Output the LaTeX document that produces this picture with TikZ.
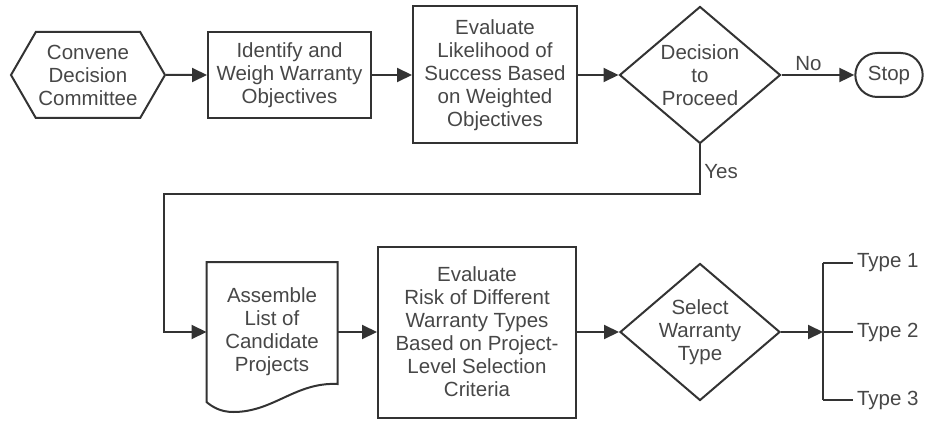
\documentclass[tikz,border=0pt]{standalone}
\usepackage{fontspec}
\setmainfont{Liberation Sans}
\usetikzlibrary{shapes.geometric,shapes.symbols,shapes.misc,arrows.meta}

\begin{document}
\begin{tikzpicture}[x=1pt,y=1pt,line width=2pt,color=black!80,
    every node/.style={text=black!72,font=\fontsize{20.5}{23}\selectfont,align=center},
    box/.style={draw,rectangle,inner sep=0pt},
    decide/.style={draw,diamond,aspect=1.18,inner sep=0pt,minimum width=161pt,minimum height=137pt},
    arr/.style={-{Triangle[length=15pt,width=14pt]}}]
    \useasboundingbox (0,0) rectangle (933,-422);
    % Ligne du haut
    \node[draw,signal,signal to=west and east,signal pointer angle=120,inner sep=0pt,
      minimum width=154pt,minimum height=86pt] (convene) at (88,-75) {Convene\\Decision\\Committee};
    \node[box,minimum width=163pt,minimum height=86pt] (weigh) at (289.5,-75) {Identify and\\Weigh Warranty\\Objectives};
    \node[box,minimum width=164pt,minimum height=137pt] (likely) at (495,-75) {Evaluate\\Likelihood of\\Success Based\\on Weighted\\Objectives};
    \node[decide] (proceed) at (700,-75) {Decision\\to\\Proceed};
    \node[draw,rounded rectangle,minimum width=74pt,minimum height=44pt] (stop) at (889,-75) {Stop};
    \draw[arr] (convene) -- (weigh);
    \draw[arr] (weigh) -- (likely);
    \draw[arr] (likely) -- (proceed);
    \draw[arr] (proceed) -- node[above,pos=0.37] {No} (stop);
    % Ligne du bas
    \node[minimum width=129pt,minimum height=138pt,inner sep=0pt] (assemble) at (272,-332) {Assemble\\List of\\Candidate\\Projects};
    \draw (assemble.south west) -- (assemble.north west) -- (assemble.north east) -- ([yshift=18pt]assemble.south east)
      .. controls +(-42,2) and +(40,0) .. ([xshift=27pt,yshift=-10pt]assemble.south west)
      .. controls +(-13,0) and +(6,-5) .. (assemble.south west) -- cycle;
    \node[box,minimum width=198pt,minimum height=171pt] (risk) at (477,-332) {Evaluate\\Risk of Different\\Warranty Types\\Based on Project-\\Level Selection\\Criteria};
    \node[decide,minimum width=160pt] (select) at (700,-332) {Select\\Warranty\\Type};
    \coordinate (back) at (164,-194);
    \draw[arr] (proceed.south) -- node[right,pos=0.55] {Yes} (proceed.south |- back) -- (back) |- (assemble.west);
    \draw[arr] (assemble) -- (risk);
    \draw[arr] (risk) -- (select);
    % Types de garantie
    \coordinate (fork) at (823,-332);
    \draw[arr] (select) -- (fork);
    \draw (823,-263) -- (823,-400);
    \foreach \i/\y in {1/-263,2/-332,3/-400}{
      \node[anchor=west,inner xsep=3pt,inner ysep=0pt] (type\i) at (853,\y) {Type \i};
      \draw (fork |- type\i) -- (type\i.west);
    }
  \end{tikzpicture}
\end{document}
